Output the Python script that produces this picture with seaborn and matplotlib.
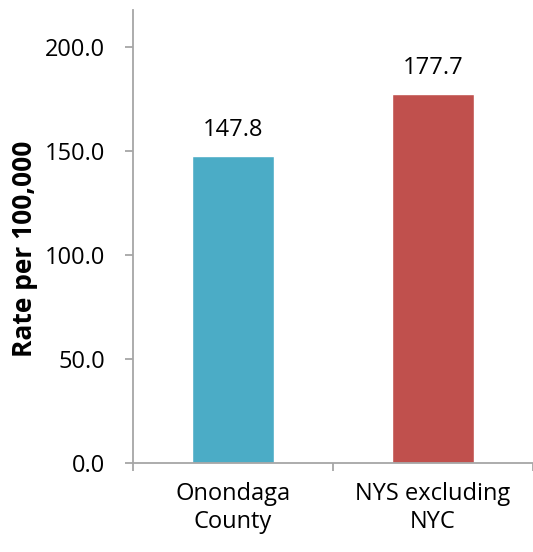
import pandas as pd
import numpy as np
import seaborn as sns
import matplotlib.pyplot as plt
from matplotlib.ticker import FixedLocator, FormatStrFormatter

categories = ['Onondaga\nCounty', 'NYS excluding\nNYC']
rates = [147.8, 177.7]
bar_colors = ['#4BACC6', '#C0504D']
yticks = [0, 50, 100, 150, 200]

df = pd.DataFrame({'Area': categories, 'Rate': rates})

sns.set_style('white')
plt.rcParams['font.family'] = ['Open Sans', 'DejaVu Sans']
plt.rcParams['text.color'] = 'black'
plt.rcParams['xtick.color'] = 'black'
plt.rcParams['ytick.color'] = 'black'
plt.rcParams['axes.labelcolor'] = 'black'

fig = plt.figure(figsize=(5.33, 5.52), dpi=100)
ax = fig.add_axes([0.2495, 0.1612, 0.7505, 0.8208])

sns.barplot(data=df, x='Area', y='Rate', hue='Area', palette=bar_colors,
            width=0.41, legend=False, ax=ax, saturation=1)

for i, v in enumerate(rates):
    ax.annotate(f'{v:.1f}', (i, v), xytext=(0, 10), textcoords='offset points',
                ha='center', va='bottom', fontsize=17)

ax.set_xlim(-0.5, 1.5)
ax.set_ylim(0, 218)
ax.set_yticks(yticks)
ax.yaxis.set_major_formatter(FormatStrFormatter('%.1f'))
ax.set_xlabel('')
ax.set_ylabel('Rate per 100,000', fontsize=19, fontweight='bold')
ax.yaxis.set_label_coords(-0.237, 0.472)

for s in ['top', 'right']:
    ax.spines[s].set_visible(False)
for s in ['left', 'bottom']:
    ax.spines[s].set_color('#A6A6A6')
    ax.spines[s].set_linewidth(1.3)

ax.tick_params(axis='y', direction='out', length=6, width=1.3, color='#A6A6A6',
               labelsize=17, pad=14, left=True)
ax.tick_params(axis='x', which='major', length=0, labelsize=17, pad=14)
ax.xaxis.set_minor_locator(FixedLocator([-0.5, 0.5, 1.5]))
ax.tick_params(axis='x', which='minor', direction='out', length=6, width=1.3,
               color='#A6A6A6', bottom=True)

plt.savefig('out.png', dpi=100)
